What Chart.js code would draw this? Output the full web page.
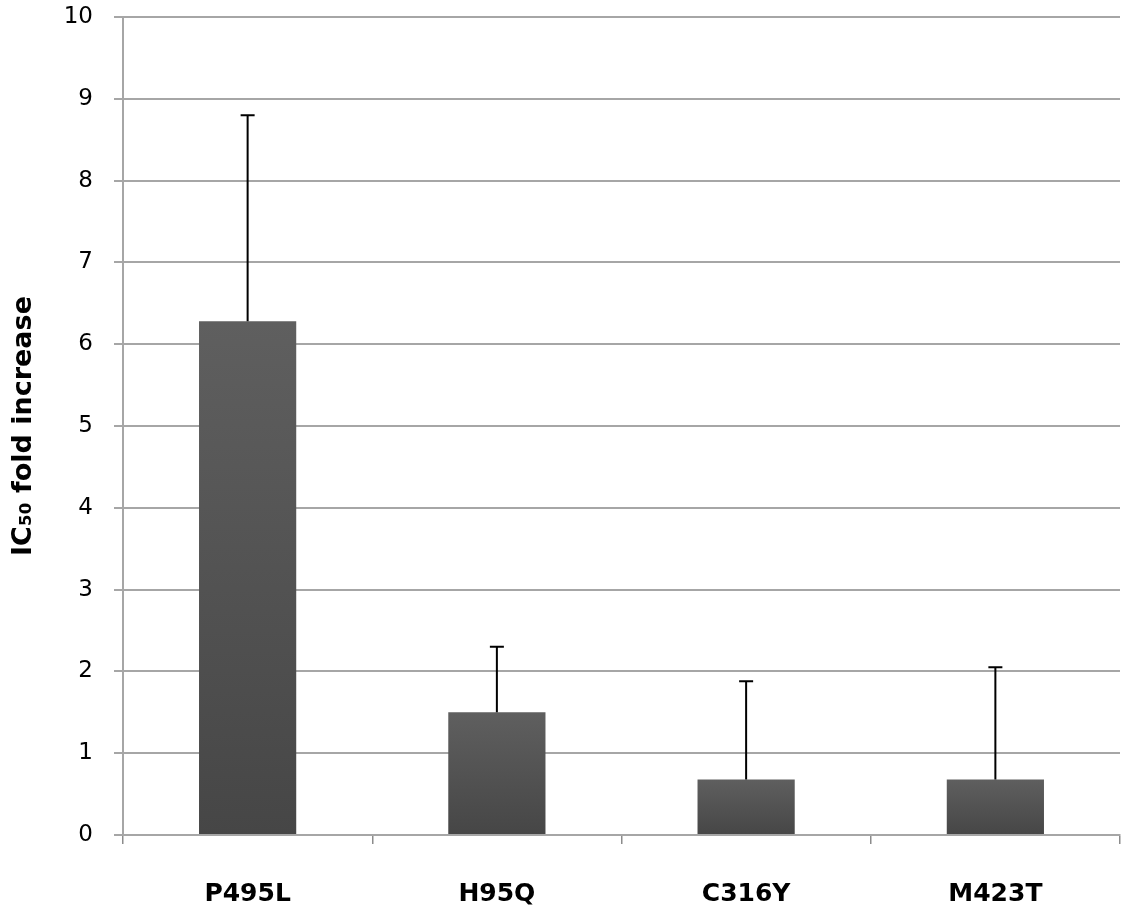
<!DOCTYPE html>
<html>
<head>
<meta charset="utf-8">
<script src="https://cdn.jsdelivr.net/npm/chart.js@4.4.0/dist/chart.umd.min.js"></script>
<style>
  html, body { margin: 0; padding: 0; background: #fff; }
  #wrap { width: 1123px; height: 922px; }
</style>
</head>
<body>
<div id="wrap"><canvas id="ic50Chart"></canvas></div>
<script>
// values
const mutants = ['P495L', 'H95Q', 'C316Y', 'M423T'];
const foldIncrease = [6.28, 1.5, 0.68, 0.68];
const errorTop = [8.8, 2.3, 1.88, 2.05];
const yTicks = [0, 1, 2, 3, 4, 5, 6, 7, 8, 9, 10];

const fontFamily = "'DejaVu Sans', 'Open Sans', sans-serif";

// draws the upper error whiskers from errorTop, using the chart's own scales
const errorBars = {
    id: 'errorBars',
    afterDatasetsDraw: function(chart){
        const ctx = chart.ctx;
        const meta = chart.getDatasetMeta(0);
        const y = chart.scales.y;
        ctx.save();
        ctx.strokeStyle = '#000';
        ctx.lineWidth = 2;
        meta.data.forEach(function(bar, i){
            const yTop = y.getPixelForValue(errorTop[i]);
            const yBase = y.getPixelForValue(foldIncrease[i]);
            ctx.beginPath();
            ctx.moveTo(bar.x, yBase);
            ctx.lineTo(bar.x, yTop);
            ctx.moveTo(bar.x - 7, yTop);
            ctx.lineTo(bar.x + 7, yTop);
            ctx.stroke();
        });
        ctx.restore();
    }
};

const el = document.getElementById('ic50Chart');
new Chart(el, {
    type: 'bar',
    data: {
        labels: mutants,
        datasets: [
            {
                label: 'IC50 fold increase',
                data: foldIncrease,
                // each bar shades from its own top to the baseline
                backgroundColor: function(c){
                    const area = c.chart.chartArea;
                    if (!area || c.dataIndex === undefined) return '#555';
                    const y = c.chart.scales.y;
                    const top = y.getPixelForValue(foldIncrease[c.dataIndex]);
                    const g = c.chart.ctx.createLinearGradient(0, top, 0, area.bottom);
                    g.addColorStop(0, '#5f5f5f');
                    g.addColorStop(1, '#464646');
                    return g;
                },
                borderWidth: 0,
                barPercentage: 0.78,
                categoryPercentage: 0.5
            }
        ]
    },
    options: {
        responsive: true,
        maintainAspectRatio: false,
        animation: false,
        layout: {
            padding: { top: 0, right: 3, bottom: 0, left: 8 }
        },
        plugins: {
            legend: { display: false },
            tooltip: { enabled: false }
        },
        scales: {
            x: {
                offset: true,
                afterFit: function(axis){
                    axis.height = 87;
                },
                grid: {
                    offset: true,
                    drawOnChartArea: false,
                    drawTicks: true,
                    tickLength: 9,
                    color: '#8c8c8c',
                    lineWidth: 1.5
                },
                border: { display: true, color: '#a6a6a6', width: 2 },
                ticks: {
                    color: '#000',
                    padding: 35,
                    font: { family: fontFamily, size: 25, weight: 'bold' }
                }
            },
            y: {
                min: 0,
                max: 10,
                afterBuildTicks: function(axis){
                    axis.ticks = yTicks.map(v => ({ value: v }));
                },
                afterFit: function(axis){
                    axis.width = 115;
                    axis.paddingTop = 17;
                    axis.paddingBottom = 0;
                },
                grid: {
                    color: '#a6a6a6',
                    lineWidth: 2,
                    drawTicks: true,
                    tickLength: 9
                },
                border: { display: true, color: '#a6a6a6', width: 2 },
                ticks: {
                    color: '#000',
                    padding: 21,
                    font: { family: fontFamily, size: 23 }
                },
                title: {
                    display: true,
                    text: 'IC₅₀ fold increase',
                    color: '#000',
                    padding: { top: 0, bottom: 0 },
                    font: { family: fontFamily, size: 27, weight: 'bold' }
                }
            }
        }
    },
    plugins: [errorBars]
});
</script>
</body>
</html>
